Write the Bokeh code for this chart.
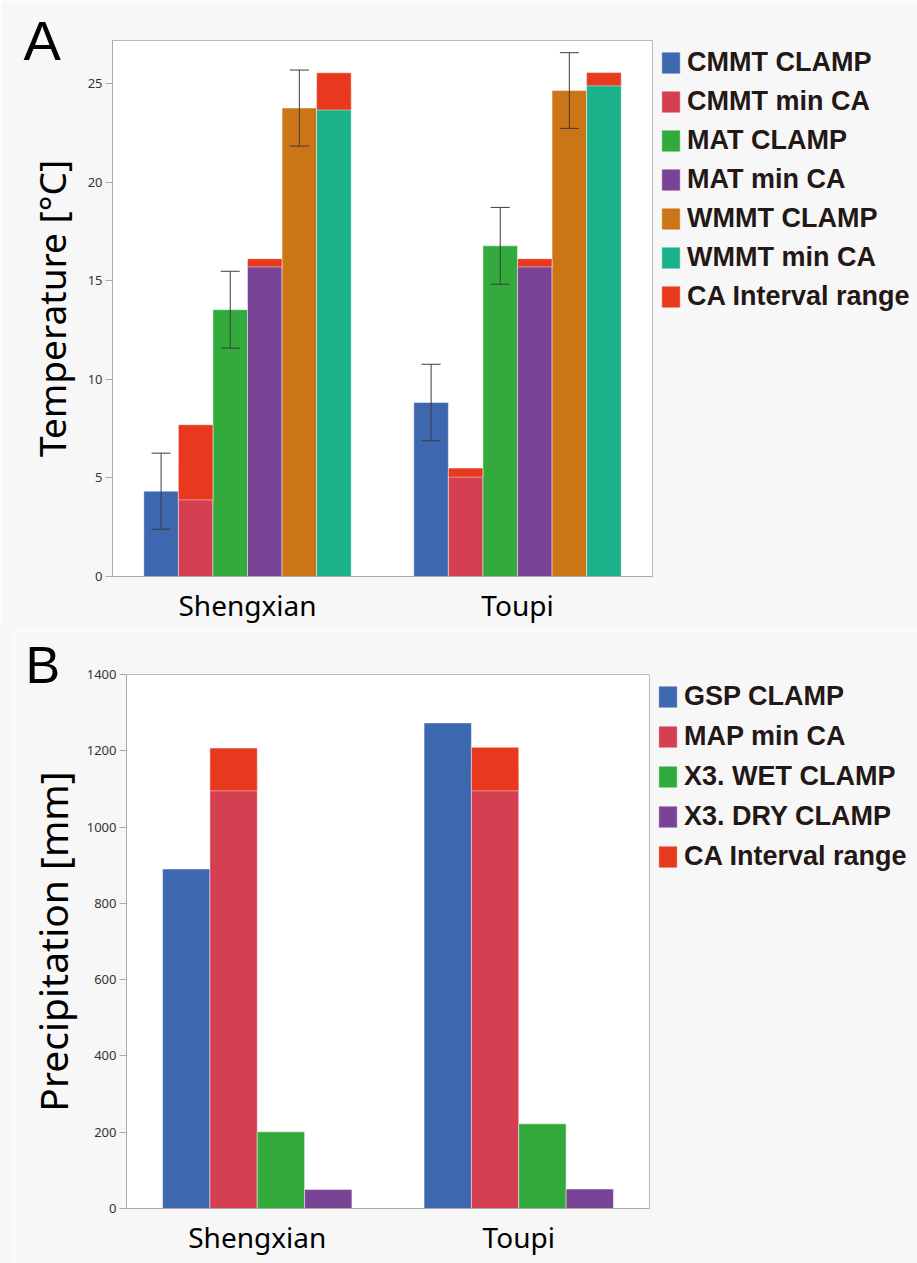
from bokeh.plotting import figure
from bokeh.models import (ColumnDataSource, FactorRange, Range1d, Legend, LegendItem,
                          Whisker, TeeHead, FixedTicker, Spacer)
from bokeh.transform import dodge
from bokeh.layouts import column, row
from bokeh.embed import file_html
from bokeh.resources import INLINE

# ---------------- data ----------------
sites = ["Shengxian", "Toupi"]

# Panel A: temperature (°C)
cmmt_clamp = [4.33, 8.83]
cmmt_clamp_err = [1.93, 1.94]
cmmt_min_ca = [5.80, 5.27]
cmmt_ca_low = [3.89, 5.04]
cmmt_ca_high = [7.70, 5.50]

mat_clamp = [13.54, 16.78]
mat_clamp_err = [1.95, 1.95]
mat_min_ca = [15.92, 15.92]
mat_ca_low = [15.71, 15.71]
mat_ca_high = [16.13, 16.13]

wmmt_clamp = [23.77, 24.66]
wmmt_clamp_err = [1.93, 1.92]
wmmt_min_ca = [24.62, 25.24]
wmmt_ca_low = [23.67, 24.90]
wmmt_ca_high = [25.56, 25.57]

temp_ticks = [0, 5, 10, 15, 20, 25]

# Panel B: precipitation (mm)
gsp_clamp = [890, 1273]
map_min_ca = [1151, 1152]
map_ca_low = [1095, 1095]
map_ca_high = [1207, 1209]
wet_clamp = [201, 222]
dry_clamp = [50, 51]

prec_ticks = [0, 200, 400, 600, 800, 1000, 1200, 1400]

# ---------------- style ----------------
BG = "#f7f7f7"
AXIS = "#a9a9a9"
TXT = "#231815"
C_BLUE = "#3d68b0"
C_PINK = "#d53f52"
C_GREEN = "#33ab3c"
C_PURPLE = "#7a4496"
C_ORANGE = "#cc7516"
C_TEAL = "#1bb18b"
C_RED = "#e8391f"
FONT = "Noto Sans"
LEG_FONT = "Liberation Sans"


def style(p, ticks, ylabel, label_size, label_standoff, letter, letter_size,
          letter_offset, letter_standoff):
    p.background_fill_color = "white"
    p.border_fill_color = BG
    p.outline_line_color = "#b8b8b8"
    p.xgrid.grid_line_color = None
    p.ygrid.grid_line_color = None
    p.yaxis.ticker = FixedTicker(ticks=ticks)
    p.yaxis.minor_tick_line_color = None
    p.yaxis.major_tick_in = 0
    p.yaxis.major_tick_out = 7
    p.yaxis.major_tick_line_color = AXIS
    p.yaxis.axis_line_color = AXIS
    p.yaxis.major_label_text_font = FONT
    p.yaxis.major_label_text_font_size = "13px"
    p.yaxis.major_label_text_color = "#333333"
    p.yaxis.major_label_standoff = 3
    p.yaxis.axis_label = ylabel
    p.yaxis.axis_label_text_font = FONT
    p.yaxis.axis_label_text_font_style = "normal"
    p.yaxis.axis_label_text_font_size = label_size
    p.yaxis.axis_label_text_color = "black"
    p.yaxis.axis_label_standoff = label_standoff
    p.xaxis.axis_line_color = AXIS
    p.xaxis.major_tick_line_color = None
    p.xaxis.minor_tick_line_color = None
    p.xaxis.major_label_text_font = FONT
    p.xaxis.major_label_text_font_size = "28px"
    p.xaxis.major_label_text_color = "black"
    p.xaxis.major_label_standoff = 3
    # panel letter
    p.title.text = letter
    p.title.text_font = "Liberation Sans"
    p.title.text_font_style = "normal"
    p.title.text_font_size = letter_size
    p.title.text_color = "black"
    p.title.align = "left"
    p.title.vertical_align = "middle"
    p.title.offset = letter_offset
    p.title.standoff = letter_standoff


def make_legend(items, spacing, label_width):
    return Legend(items=items, location="top_left", margin=7, padding=0,
                  spacing=spacing, glyph_width=23, glyph_height=27, label_height=27,
                  label_width=label_width,
                  label_standoff=5, label_text_font=LEG_FONT,
                  label_text_font_style="bold", label_text_font_size="27px",
                  label_text_color=TXT, border_line_color=None,
                  background_fill_alpha=0)


def bar(p, off, w, vals, color, bottom=None):
    d = dict(site=sites, v=vals)
    if bottom is not None:
        d["b"] = bottom
    src = ColumnDataSource(d)
    return p.vbar(x=dodge("site", off, range=p.x_range), top="v",
                  bottom=("b" if bottom is not None else 0), width=w, source=src,
                  fill_color=color, line_color="white", line_alpha=0.45, line_width=1)


def err(p, off, vals, errs):
    src = ColumnDataSource(dict(site=sites,
                                lo=[v - e for v, e in zip(vals, errs)],
                                hi=[v + e for v, e in zip(vals, errs)]))
    wk = Whisker(base=dodge("site", off, range=p.x_range), upper="hi", lower="lo",
                 source=src, line_color="#3c3c3c", line_width=1, level="annotation",
                 upper_head=TeeHead(size=19, line_color="#3c3c3c", line_width=1),
                 lower_head=TeeHead(size=19, line_color="#3c3c3c", line_width=1))
    p.add_layout(wk)


# ---------------- panel A ----------------
p1 = figure(x_range=FactorRange(*sites), y_range=Range1d(0, 27.2),
            frame_width=540, frame_height=536, output_backend="svg",
            toolbar_location=None,
            min_border_left=112, min_border_right=0, min_border_top=40,
            min_border_bottom=54)
style(p1, temp_ticks, "Temperature [°C]", "37px", 8, "A", "56px", -89, -66)

w1 = 0.128
offs1 = [(i - 2.5) * w1 for i in range(6)]
r_cmmt_c = bar(p1, offs1[0], w1, cmmt_clamp, C_BLUE)
r_cmmt_m = bar(p1, offs1[1], w1, cmmt_min_ca, C_PINK)
r_mat_c = bar(p1, offs1[2], w1, mat_clamp, C_GREEN)
r_mat_m = bar(p1, offs1[3], w1, mat_min_ca, C_PURPLE)
r_wmmt_c = bar(p1, offs1[4], w1, wmmt_clamp, C_ORANGE)
r_wmmt_m = bar(p1, offs1[5], w1, wmmt_min_ca, C_TEAL)
r_ca1 = bar(p1, offs1[1], w1, cmmt_ca_high, C_RED, bottom=cmmt_ca_low)
bar(p1, offs1[3], w1, mat_ca_high, C_RED, bottom=mat_ca_low)
bar(p1, offs1[5], w1, wmmt_ca_high, C_RED, bottom=wmmt_ca_low)
err(p1, offs1[0], cmmt_clamp, cmmt_clamp_err)
err(p1, offs1[2], mat_clamp, mat_clamp_err)
err(p1, offs1[4], wmmt_clamp, wmmt_clamp_err)

leg1 = make_legend([
    LegendItem(label="CMMT CLAMP", renderers=[r_cmmt_c]),
    LegendItem(label="CMMT min CA", renderers=[r_cmmt_m]),
    LegendItem(label="MAT CLAMP", renderers=[r_mat_c]),
    LegendItem(label="MAT min CA", renderers=[r_mat_m]),
    LegendItem(label="WMMT CLAMP", renderers=[r_wmmt_c]),
    LegendItem(label="WMMT min CA", renderers=[r_wmmt_m]),
    LegendItem(label="CA Interval range", renderers=[r_ca1]),
], spacing=8, label_width=223)
p1.add_layout(leg1, "right")

# ---------------- panel B ----------------
p2 = figure(x_range=FactorRange(*sites), y_range=Range1d(0, 1400),
            frame_width=523, frame_height=534, output_backend="svg",
            toolbar_location=None,
            min_border_left=112, min_border_right=0, min_border_top=44,
            min_border_bottom=55)
style(p2, prec_ticks, "Precipitation [mm]", "39px", 5, "B", "52px", -101, -41)

w2 = 0.181
offs2 = [(i - 1.5) * w2 for i in range(4)]
r_gsp = bar(p2, offs2[0], w2, gsp_clamp, C_BLUE)
r_map = bar(p2, offs2[1], w2, map_min_ca, C_PINK)
r_wet = bar(p2, offs2[2], w2, wet_clamp, C_GREEN)
r_dry = bar(p2, offs2[3], w2, dry_clamp, C_PURPLE)
r_ca2 = bar(p2, offs2[1], w2, map_ca_high, C_RED, bottom=map_ca_low)

leg2 = make_legend([
    LegendItem(label="GSP CLAMP", renderers=[r_gsp]),
    LegendItem(label="MAP min CA", renderers=[r_map]),
    LegendItem(label="X3. WET CLAMP", renderers=[r_wet]),
    LegendItem(label="X3. DRY CLAMP", renderers=[r_dry]),
    LegendItem(label="CA Interval range", renderers=[r_ca2]),
], spacing=9, label_width=226)
p2.add_layout(leg2, "right")

gap = Spacer(width=14, height=633, styles={"background-color": BG})
layout = column(p1, row(gap, p2, spacing=0), spacing=0)
open("out.html", "w").write(file_html(layout, INLINE))
